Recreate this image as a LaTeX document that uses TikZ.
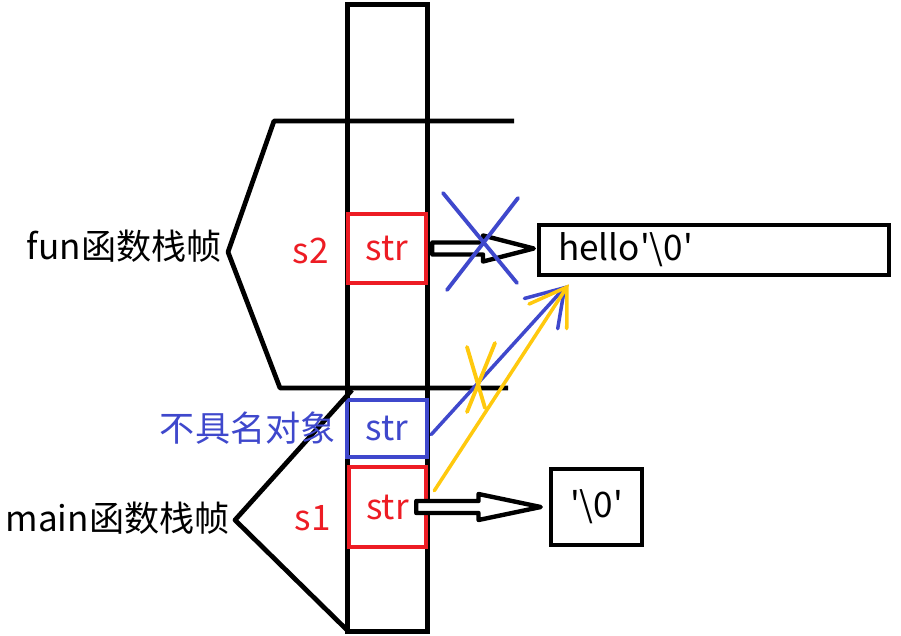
\documentclass[tikz,border=0pt]{standalone}
\usepackage{fontspec}
\setmainfont{Noto Sans CJK SC}[Ligatures=TeXOff]
\usetikzlibrary{positioning,calc,arrows.meta}
\definecolor{paintred}{RGB}{237,28,36}
\definecolor{paintblue}{RGB}{63,72,204}
\definecolor{paintyellow}{RGB}{255,201,14}

% hollow block arrow: \hollowarrow{start}{tip}
\newcommand{\hollowarrow}[2]{%
  \draw[hollow] ($(#1)+(0,-6)$) -- ($(#1)!0.5!(#2)+(0,-6)$)
    -- ($(#1)!0.5!(#2)+(0,-13)$) -- (#2)
    -- ($(#1)!0.5!(#2)+(0,13)$) -- ($(#1)!0.5!(#2)+(0,6)$)
    -- ($(#1)+(0,6)$) -- cycle;}

\begin{document}
\begin{tikzpicture}[
      x=0.02cm, y=-0.02cm,
      font=\fontsize{20}{24}\selectfont,
      line width=2.7pt,
      cell/.style={draw, line width=2.6pt, inner sep=0pt},
      redcell/.style={cell, draw=paintred, text=paintred},
      bluecell/.style={cell, draw=paintblue, text=paintblue},
      lab/.style={inner sep=0pt, anchor=east},
      hollow/.style={draw=black, line width=2.5pt, line join=round, fill=white},
      ptr/.style={line width=2pt, line cap=round,
        -{Straight Barb[length=0.7cm, width=0.9cm, line cap=round]}},
      cross/.style={line width=2.2pt, line cap=round}
    ]
    \useasboundingbox (0,0) rectangle (901,635);

    % ---- the stack: one column, three slots ----
    \node[cell, line width=2.8pt, minimum width=1.6cm, minimum height=12.54cm] (stack) at (387.5,318) {};
    \node[redcell, minimum width=1.56cm, minimum height=1.38cm] (s2box) at (387,248.5) {str};
    \node[bluecell, minimum width=1.60cm, minimum height=1.14cm] (objbox) at (387,428.5) {str};
    \node[redcell, minimum width=1.54cm, minimum height=1.60cm] (s1box) at (387.5,507) {str};

    % ---- heap strings ----
    \node[cell, minimum height=1cm, text width=6.24cm, align=left, inner xsep=0.38cm]
      (hello) at (714,250) {hello\textquotesingle\textbackslash0\textquotesingle};
    \node[cell, minimum width=1.82cm, minimum height=1.52cm]
      (zero) at (596.5,507) {\textquotesingle\textbackslash0\textquotesingle};

    % ---- frame brackets ----
    \draw[line join=round] (514,121) -- (274,121) -- (228,252) -- (280,388) -- (508,388);
    \draw[line join=round] (352,390) -- (235,520) -- (347,630);

    % ---- labels ----
    \node[lab] (funlbl) at (224,246) {fun函数栈帧};
    \node[lab] (mainlbl) at (232,518) {main函数栈帧};
    \node[lab, text=paintred] (s2lbl) at (331,251) {s2};
    \node[lab, text=paintred] (s1lbl) at (333,518) {s1};
    \node[lab, text=paintblue] (objlbl) at (338,428) {不具名对象};

    % ---- pointers ----
    \coordinate (a2) at ($(s2box.east)+(4,0)$);
    \coordinate (t2) at ($(hello.west |- a2)+(-3,0)$);
    \coordinate (a1) at ($(s1box.east)+(-12,0)$);
    \coordinate (t1) at ($(zero.west |- a1)+(-8,0)$);
    \hollowarrow{a2}{t2}
    \hollowarrow{a1}{t1}

    \coordinate (tipb) at ($(hello.south west)+(30,8)$);
    \coordinate (tipy) at ($(hello.south west)+(32,7)$);
    \draw[ptr, paintblue] ($(objbox.east)+(2,6)$) -- (tipb);
    \draw[ptr, paintyellow] ($(s1box.north east)+(6,26)$) -- (tipy);

    % ---- crossed out ----
    \draw[cross, paintblue] (443,193) -- (517,283) (518,198) -- (447,290);
    \draw[cross, paintyellow] (467,347) -- (485,408) (495,343) -- (467,412);
  \end{tikzpicture}
\end{document}
